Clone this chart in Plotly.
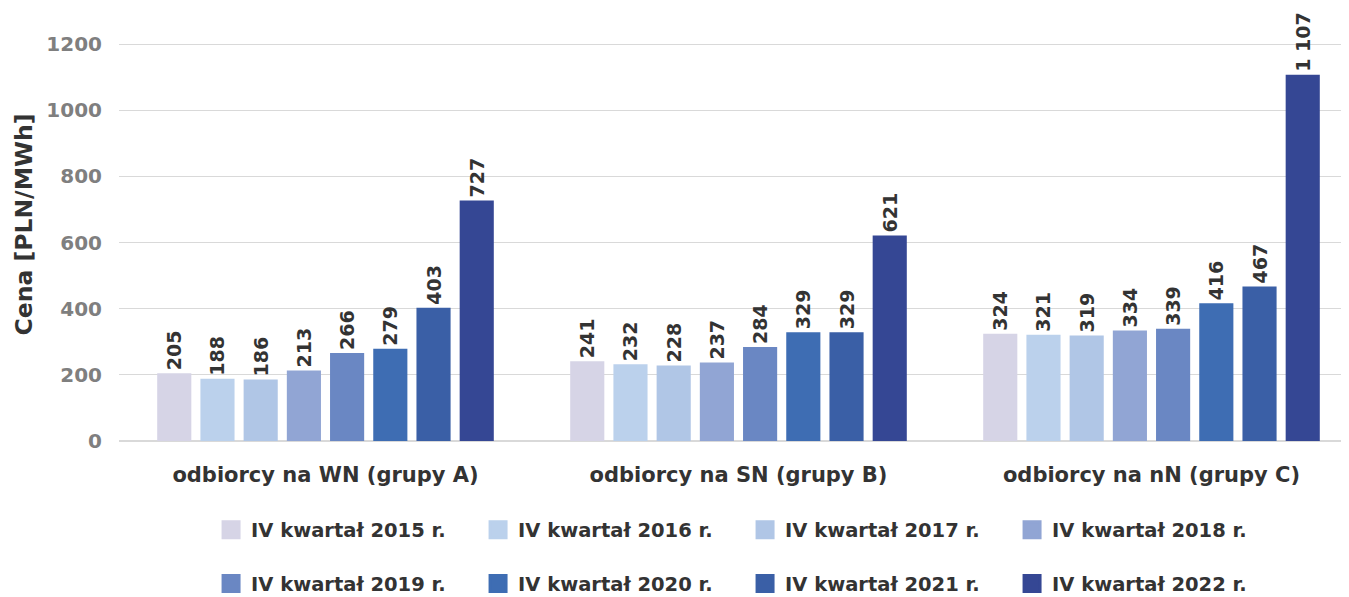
import plotly.graph_objects as go

categories = ["odbiorcy na WN (grupy A)", "odbiorcy na SN (grupy B)", "odbiorcy na nN (grupy C)"]
series_names = ["IV kwartał 2015 r.", "IV kwartał 2016 r.", "IV kwartał 2017 r.", "IV kwartał 2018 r.",
                "IV kwartał 2019 r.", "IV kwartał 2020 r.", "IV kwartał 2021 r.", "IV kwartał 2022 r."]
v2015 = [205, 241, 324]
v2016 = [188, 232, 321]
v2017 = [186, 228, 319]
v2018 = [213, 237, 334]
v2019 = [266, 284, 339]
v2020 = [279, 329, 416]
v2021 = [403, 329, 467]
v2022 = [727, 621, 1107]
series_values = [v2015, v2016, v2017, v2018, v2019, v2020, v2021, v2022]
colors = ["#D6D4E6", "#BBD1EC", "#B0C6E6", "#91A5D4", "#6A87C3", "#3E6DB3", "#3A5FA6", "#354794"]

FONT = "DejaVu Sans"
DARK = "#333333"

def fmt(v):
    return f"{v:,}".replace(",", " ")

fig = go.Figure()
for i, (name, vals) in enumerate(zip(series_names, series_values)):
    fig.add_trace(go.Bar(
        x=categories, y=vals, name=name,
        marker=dict(color=colors[i], line=dict(width=0)),
        text=[fmt(v) for v in vals],
        textposition="outside", textangle=-90,
        constraintext="none",
        textfont=dict(family=FONT, size=19, color=DARK, weight="bold"),
        cliponaxis=False,
        showlegend=False,
    ))
# legend-only entries with larger square swatches
for i, name in enumerate(series_names):
    fig.add_trace(go.Scatter(
        x=[None], y=[None], name=name, mode="markers",
        marker=dict(symbol="square", size=16, color=colors[i],
                    line=dict(color=colors[i], width=3)),
        legend="legend" if i < 4 else "legend2",
        hoverinfo="skip",
    ))

leg_font = dict(family=FONT, size=19.5, color=DARK, weight="bold")
fig.update_layout(
    width=1350, height=610,
    margin=dict(l=111, r=0, t=0, b=177),
    paper_bgcolor="white", plot_bgcolor="white",
    barmode="group", bargap=0.163, bargroupgap=0.21,
    font=dict(family=FONT, color=DARK),
    showlegend=True,
    legend=dict(orientation="h", x=0.0743, xanchor="left", y=-0.2055, yanchor="middle",
                entrywidth=222, entrywidthmode="pixels", font=leg_font, itemsizing="trace"),
    legend2=dict(orientation="h", x=0.0743, xanchor="left", y=-0.33, yanchor="middle",
                 entrywidth=222, entrywidthmode="pixels", font=leg_font, itemsizing="trace"),
    xaxis=dict(showgrid=False, showline=True, linecolor="#d9d9d9", linewidth=1,
               automargin=False,
               tickfont=dict(family=FONT, size=21, color=DARK, weight="bold"),
               ticklabelstandoff=15),
    yaxis=dict(range=[0, 1308.8], tickvals=[0, 200, 400, 600, 800, 1000, 1200],
               automargin=False,
               showgrid=True, gridcolor="#d9d9d9", gridwidth=1,
               zeroline=True, zerolinecolor="#d9d9d9",
               tickfont=dict(family=FONT, size=20, color="#7f7f7f", weight="bold"),
               ticklabelstandoff=16,
               title=dict(text="Cena [PLN/MWh]", font=dict(family=FONT, size=23.5, color=DARK, weight="bold"),
                          standoff=7)),
)

fig.write_html("out.html")
